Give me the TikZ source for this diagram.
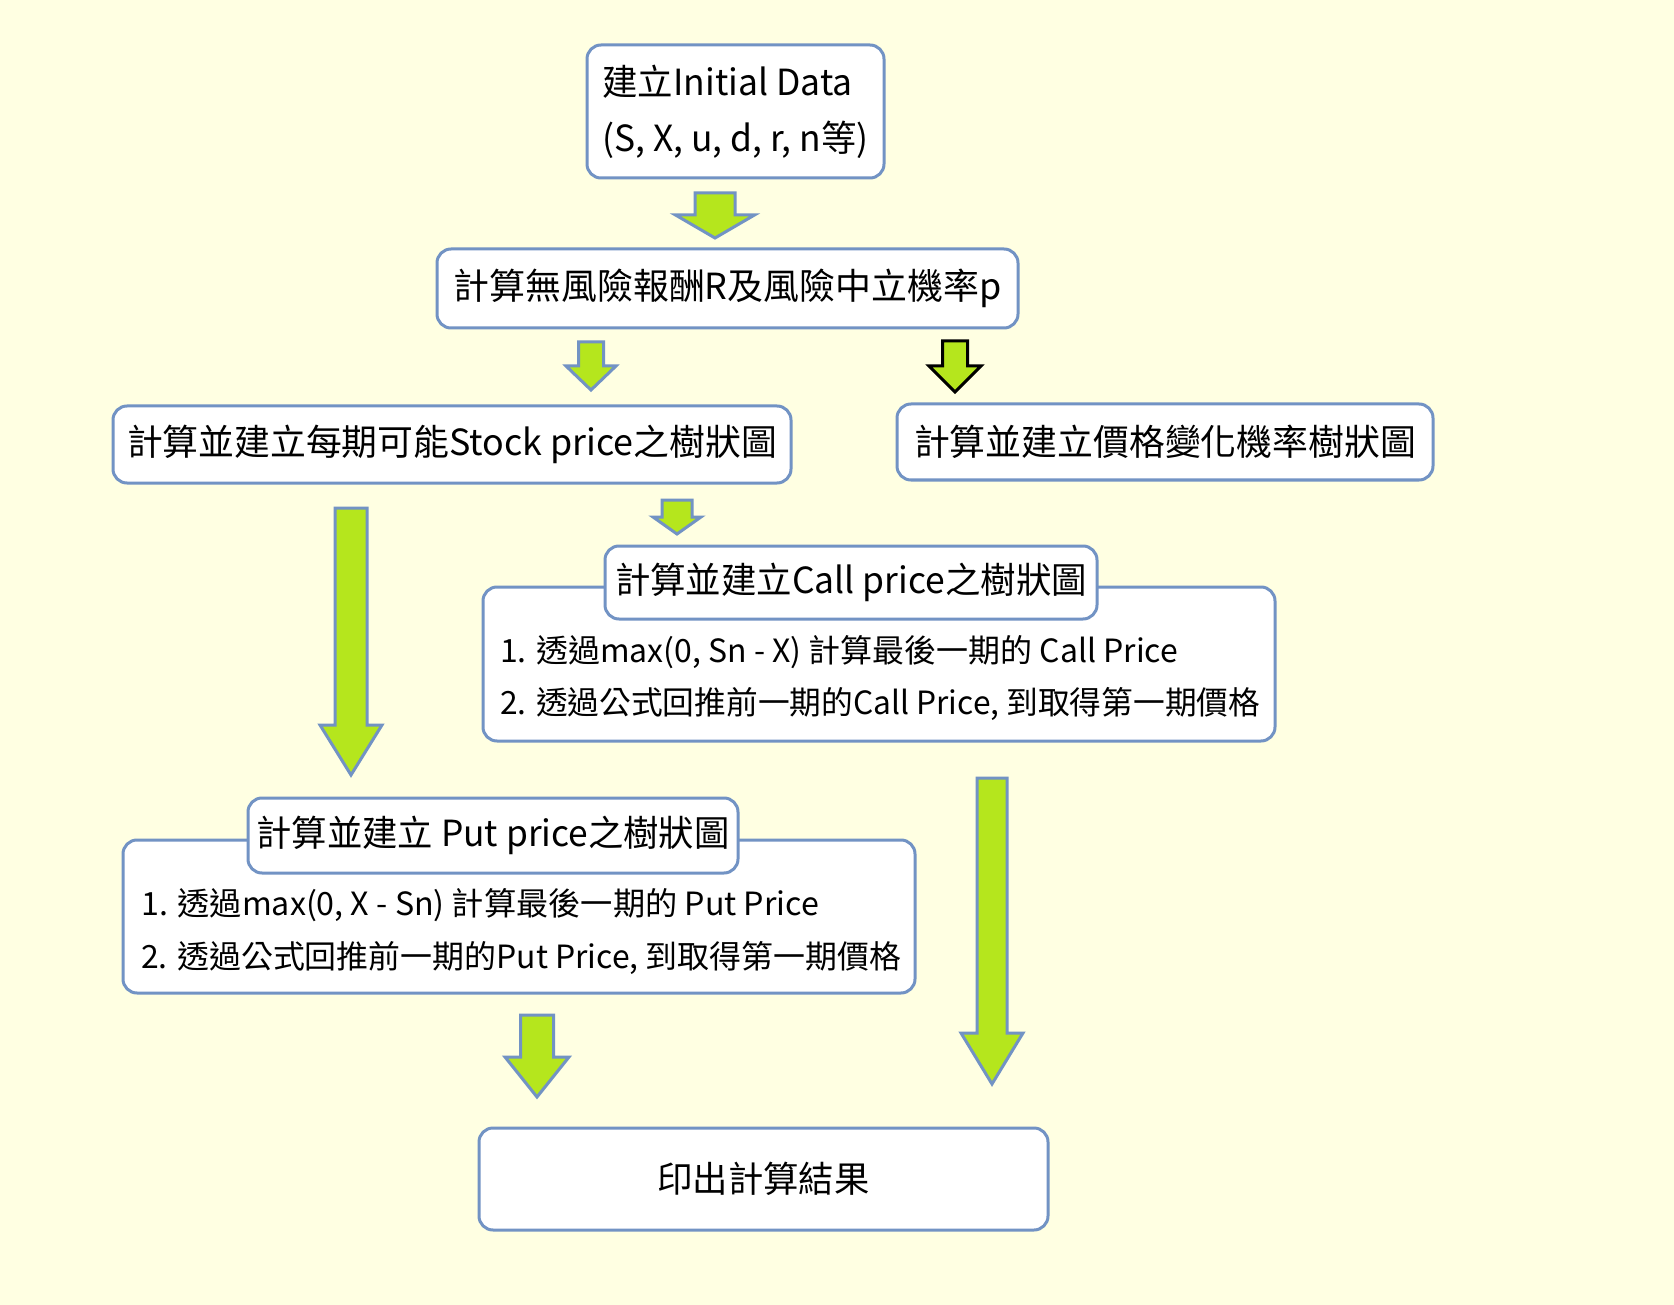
\documentclass[tikz,border=0pt]{standalone}
\usepackage{fontspec}
\setmainfont{Noto Sans CJK TC}
\usepackage{graphicx}
\definecolor{bgc}{RGB}{255,255,226}
\definecolor{bdc}{RGB}{114,147,196}
\definecolor{agc}{RGB}{181,230,29}
\newcommand\fitw[2]{\resizebox{#1pt}{\height}{#2}}
\newcommand\blockarrow[7]{%
  \draw[#1] (#2-#3,#4) -- (#2+#3,#4) -- (#2+#3,#5) -- (#2+#6,#5) -- (#2,#7) -- (#2-#6,#5) -- (#2-#3,#5) -- cycle;}
\tikzset{
  box/.style={draw=bdc, line width=3pt, fill=white, rounded corners=14pt, inner sep=0pt, font=\fontsize{36}{42}\selectfont},
  bodytext/.style={anchor=west, inner sep=0pt, font=\fontsize{32}{38}\selectfont},
  garrow/.style={draw=bdc, fill=agc, line width=3pt, line join=miter},
  karrow/.style={draw=black, fill=agc, line width=3pt, line join=miter}
}
\begin{document}
\begin{tikzpicture}[x=1pt,y=-1pt]
\fill[bgc] (0,0) rectangle (1674,1305);
\useasboundingbox (0,0) rectangle (1674,1305);
% boxes
\node[box, minimum width=297pt, minimum height=133pt, align=left] (b1) at (735.5,111.5)
  {\fitw{250}{建立Initial Data}\\[14pt]\fitw{266}{(S, X, u, d, r, n等)}};
\node[box, minimum width=581pt, minimum height=79pt] (b2) at (727.5,288.5)
  {\fitw{548}{計算無風險報酬R及風險中立機率p}};
\node[box, minimum width=678pt, minimum height=77pt] (b3) at (452,444.5)
  {\fitw{650}{計算並建立每期可能Stock price之樹狀圖}};
\node[box, minimum width=536pt, minimum height=76pt] (b4) at (1165,442)
  {\fitw{502}{計算並建立價格變化機率樹狀圖}};
\node[box, minimum width=792pt, minimum height=154pt] (cb) at (879,664) {};
\node[box, minimum width=492pt, minimum height=73pt] (ct) at (851,582.5)
  {\fitw{472}{計算並建立Call price之樹狀圖}};
\node[bodytext] (c1) at (500,652) {\fitw{678}{1. 透過max(0, Sn - X) 計算最後一期的 Call Price}};
\node[bodytext] (c2) at (500,704) {\fitw{760}{2. 透過公式回推前一期的Call Price, 到取得第一期價格}};
\node[box, minimum width=792pt, minimum height=153pt] (pb) at (519,916.5) {};
\node[box, minimum width=490pt, minimum height=75pt] (pt) at (493,835.5)
  {\fitw{473}{計算並建立 Put price之樹狀圖}};
\node[bodytext] (p1) at (141,905) {\fitw{678}{1. 透過max(0, X - Sn) 計算最後一期的 Put Price}};
\node[bodytext] (p2) at (141,958) {\fitw{760}{2. 透過公式回推前一期的Put Price, 到取得第一期價格}};
\node[box, minimum width=569pt, minimum height=102pt] (fin) at (763.5,1179)
  {\fitw{212}{印出計算結果}};
% block arrows
\blockarrow{garrow}{715}{20}{193}{215}{39.5}{238}
\blockarrow{garrow}{591}{12.5}{342}{366}{25}{390}
\blockarrow{karrow}{955}{12.5}{341}{366}{26}{392}
\blockarrow{garrow}{677}{15}{500}{517}{24}{534}
\blockarrow{garrow}{351}{16}{508}{725}{31}{775}
\blockarrow{garrow}{992}{15}{778}{1033}{31}{1084}
\blockarrow{garrow}{537}{16.5}{1015}{1057}{32}{1097}
\end{tikzpicture}
\end{document}
